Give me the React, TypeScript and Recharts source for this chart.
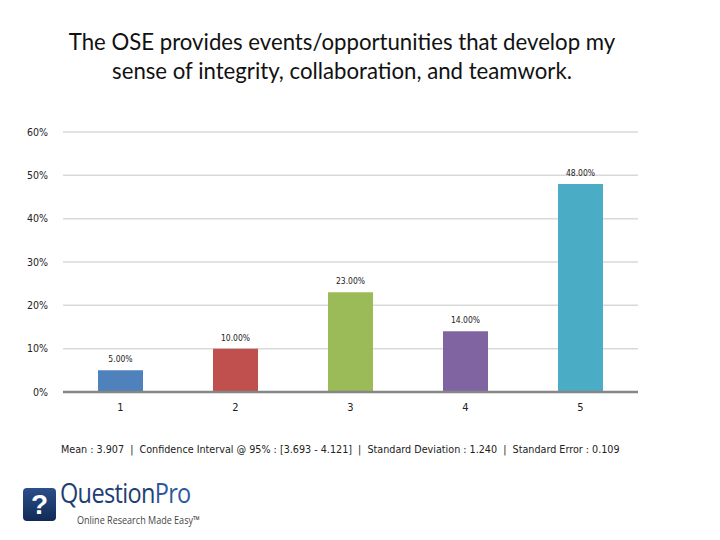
import React from "react";
import { BarChart, Bar, XAxis, YAxis, CartesianGrid, Cell, LabelList } from "recharts";

const categories = ["1", "2", "3", "4", "5"];
const percents = [5, 10, 23, 14, 48];
const barColors = ["#4f81bd", "#c0504d", "#9bbb59", "#8064a2", "#4bacc6"];
const yTicks = [0, 10, 20, 30, 40, 50, 60];
const titleLines = [
  "The OSE provides events/opportunities that develop my",
  "sense of integrity, collaboration, and teamwork.",
];
const statsText =
  "Mean : 3.907  |  Confidence Interval @ 95% : [3.693 - 4.121]  |  Standard Deviation : 1.240  |  Standard Error : 0.109";

const data = categories.map((c, i) => ({ name: c, value: percents[i] }));

const smallFont = "'DejaVu Sans Condensed', 'DejaVu Sans', sans-serif";

const ValueLabel = (props: any) => {
  const { x, y, width, value } = props;
  return (
    <text
      x={x + width / 2}
      y={y - 8}
      textAnchor="middle"
      fontFamily={smallFont}
      fontSize={8.5}
      fill="#222"
    >
      {value.toFixed(2) + "%"}
    </text>
  );
};

export default function App() {
  return (
    <div style={{ position: "absolute", left: 0, top: 0, width: 720, height: 540, background: "#fff" }}>
      <div
        style={{
          position: "absolute",
          left: 0,
          top: 27,
          width: 684,
          textAlign: "center",
          fontFamily: "Lato, 'Open Sans', sans-serif",
          fontSize: 22.2,
          lineHeight: "29px",
          color: "#111",
        }}
      >
        {titleLines.map((t, i) => (
          <div key={i}>{t}</div>
        ))}
      </div>
      <div style={{ position: "absolute", left: 0, top: 0 }}>
        <BarChart
          width={720}
          height={540}
          data={data}
          margin={{ top: 132, right: 82, bottom: 118, left: 0 }}
        >
          <CartesianGrid vertical={false} stroke="#d9d9d9" strokeWidth={1.5} />
          <YAxis
            width={63}
            domain={[0, 60]}
            ticks={yTicks}
            tickFormatter={(v: number) => v + "%"}
            axisLine={false}
            tickLine={false}
            tick={{ fontFamily: smallFont, fontSize: 10.5, fill: "#222" }}
            tickMargin={9}
          />
          <XAxis
            dataKey="name"
            height={30}
            axisLine={{ stroke: "#868686", strokeWidth: 2.5 }}
            tickLine={false}
            tick={{ fontFamily: smallFont, fontSize: 11, fill: "#222" }}
            tickMargin={5}
          />
          <Bar dataKey="value" barSize={45} isAnimationActive={false}>
            {data.map((d, i) => (
              <Cell key={d.name} fill={barColors[i]} />
            ))}
            <LabelList dataKey="value" content={ValueLabel} />
          </Bar>
        </BarChart>
      </div>
      <div
        style={{
          position: "absolute",
          left: 61,
          top: 443,
          fontFamily: smallFont,
          fontSize: 10.7,
          lineHeight: "14px",
          color: "#222",
          whiteSpace: "pre",
        }}
      >
        {statsText}
      </div>
      <div
        style={{
          position: "absolute",
          left: 23,
          top: 488,
          width: 33,
          height: 33,
          borderRadius: 4,
          background: "linear-gradient(#2b4f8a, #102a55)",
          color: "#fff",
          fontFamily: "'Liberation Sans', sans-serif",
          fontWeight: 700,
          fontSize: 28,
          lineHeight: "33px",
          textAlign: "center",
        }}
      >
        ?
      </div>
      <div
        style={{
          position: "absolute",
          left: 60,
          top: 480,
          fontFamily: "'Open Sans', sans-serif",
          fontSize: 28,
          lineHeight: "25px",
          letterSpacing: -0.8,
          color: "#1d3f73",
          whiteSpace: "pre",
          transform: "scaleX(0.84)",
          transformOrigin: "left center",
        }}
      >
        Question<span style={{ color: "#2a5a9c" }}>Pro</span>
      </div>
      <div
        style={{
          position: "absolute",
          left: 77,
          top: 514,
          fontFamily: "'Open Sans', sans-serif",
          fontSize: 10.5,
          lineHeight: "12px",
          color: "#444",
          whiteSpace: "pre",
          transform: "scaleX(0.86)",
          transformOrigin: "left center",
        }}
      >
        Online Research Made Easy™
      </div>
    </div>
  );
}
